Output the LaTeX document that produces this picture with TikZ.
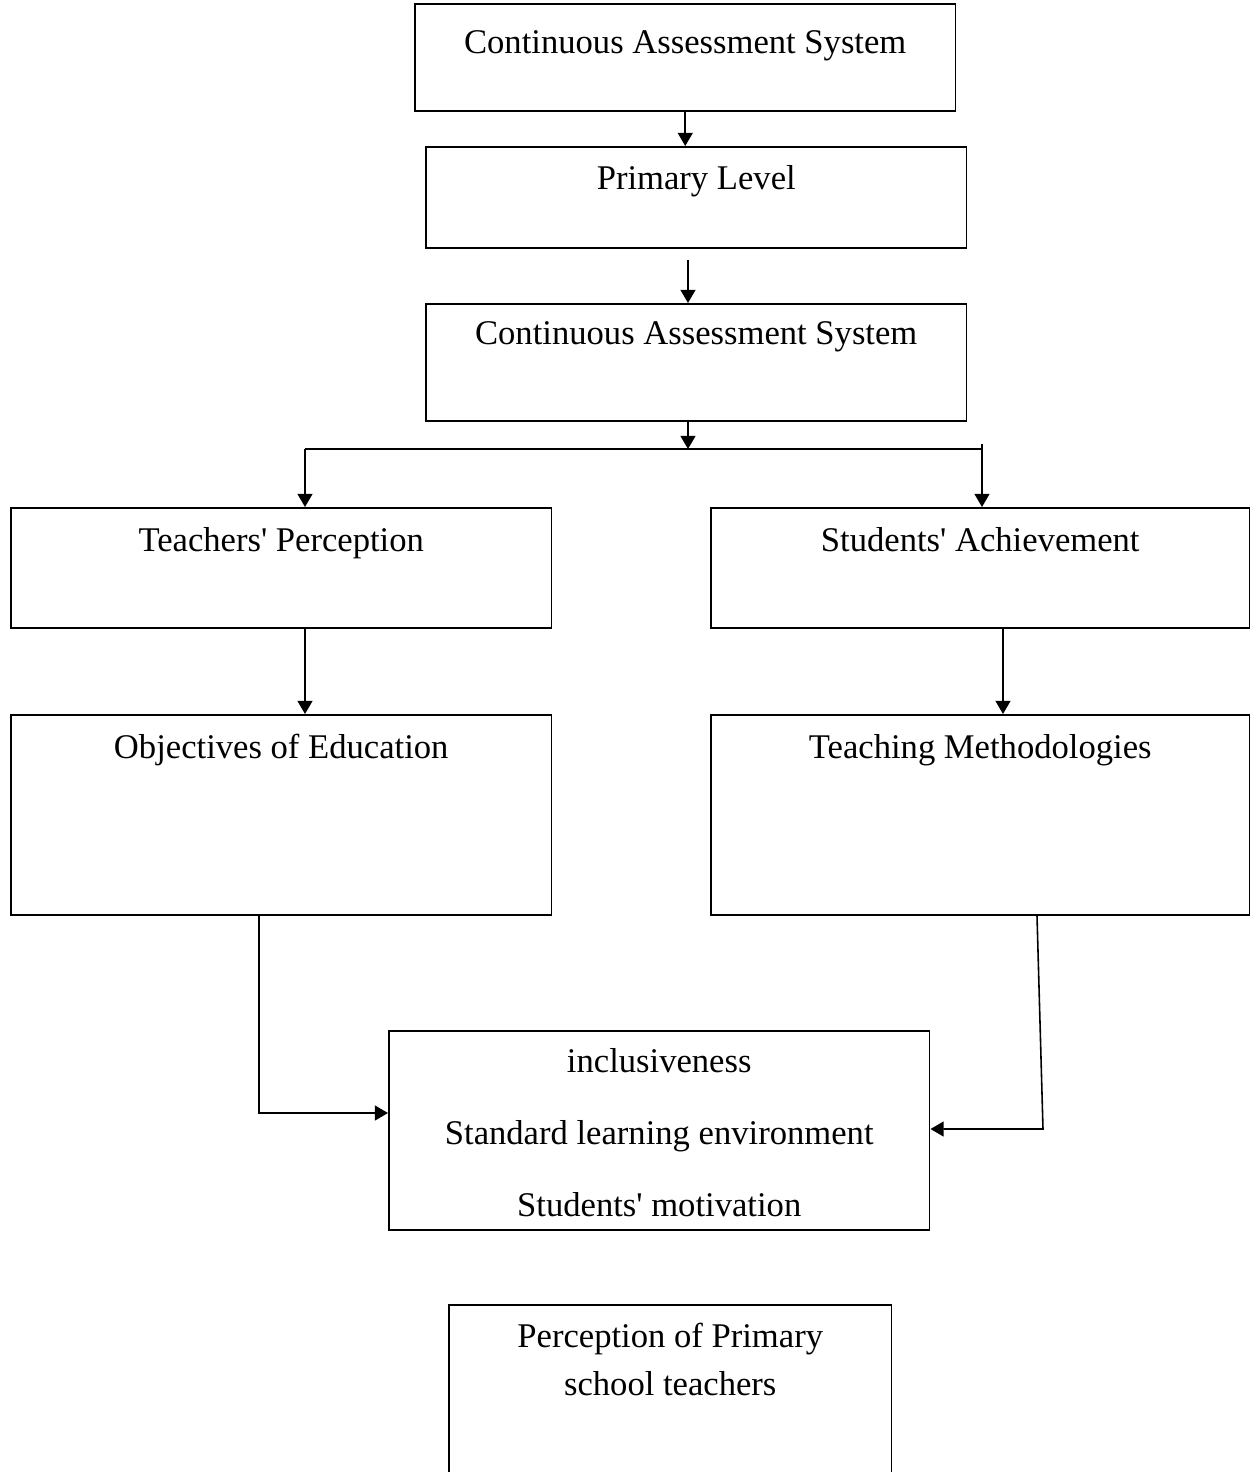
\documentclass[tikz,border=0pt]{standalone}
\usepackage{fontspec}
\setmainfont{Liberation Serif}
\usetikzlibrary{arrows.meta}

\tikzset{
  box/.style={draw, line width=0.9pt, inner sep=0pt, anchor=north west,
    align=center, minimum width=10.82cm, text height=0.86cm},
  arr/.style={line width=0.9pt, -{Triangle[length=7.5pt,width=8.5pt]}},
  link/.style={line width=0.9pt}
}

\begin{document}
\begin{tikzpicture}[x=0.02cm, y=-0.02cm,
        every node/.style={font=\fontsize{19.7}{24}\selectfont}]
  \clip (0,0) rectangle (1250,1472);
  % chain at the top
  \node[box, text height=1.0cm, text depth=1.14cm] (cas) at (414,3) {Continuous Assessment System};
  \node[box, text depth=1.16cm] (primary) at (425,146) {Primary Level};
  \node[box, text height=0.82cm, text depth=1.52cm] (cas2) at (425,303) {Continuous Assessment System};
  % two branches
  \node[box, text height=0.88cm, text depth=1.52cm] (tp) at (10,507) {Teachers\textquotesingle{} Perception};
  \node[box, text height=0.88cm, text depth=1.52cm, minimum width=10.78cm] (sa) at (710,507) {Students\textquotesingle{} Achievement};
  \node[box, text height=0.88cm, text depth=3.12cm] (obj) at (10,714) {Objectives of Education};
  \node[box, text height=0.88cm, text depth=3.12cm, minimum width=10.78cm] (tm) at (710,714) {Teaching Methodologies};
  % outcomes
  \node[box, text height=3.72cm, text depth=0.26cm] (env) at (388,1030)
    {inclusiveness\\[17pt] Standard learning environment\\[17pt] Students\textquotesingle{} motivation};
  \node[box, text height=1.82cm, text depth=1.9cm, minimum width=8.86cm] (ppt) at (448,1304)
    {Perception of Primary\\[3.3pt] school teachers};

  \coordinate (split) at (688,449);
  \coordinate (lbar) at (305,449);
  \coordinate (rtop) at (982,444);
  \coordinate (bend) at (1043,1129);

  \draw[arr] (cas.south) -- (cas.south |- primary.north);
  \draw[arr, shorten <=0.22cm] (primary.south -| split) -- (cas2.north -| split);
  \draw[arr] (cas2.south -| split) -- (split);
  \draw[link] (lbar) -- (split -| rtop);
  \draw[arr] (lbar) -- (tp.north -| lbar);
  \draw[arr] (rtop) -- (sa.north -| rtop);
  \draw[arr] (tp.south -| lbar) -- (obj.north -| lbar);
  \draw[arr] (sa.south -| 1003,0) -- (tm.north -| 1003,0);
  \draw[arr] (obj.south -| 259,0) |- (env.west |- 0,1113);
  \draw[arr] (tm.south -| 1037,0) -- (bend) -- (env.east |- bend);
\end{tikzpicture}
\end{document}
